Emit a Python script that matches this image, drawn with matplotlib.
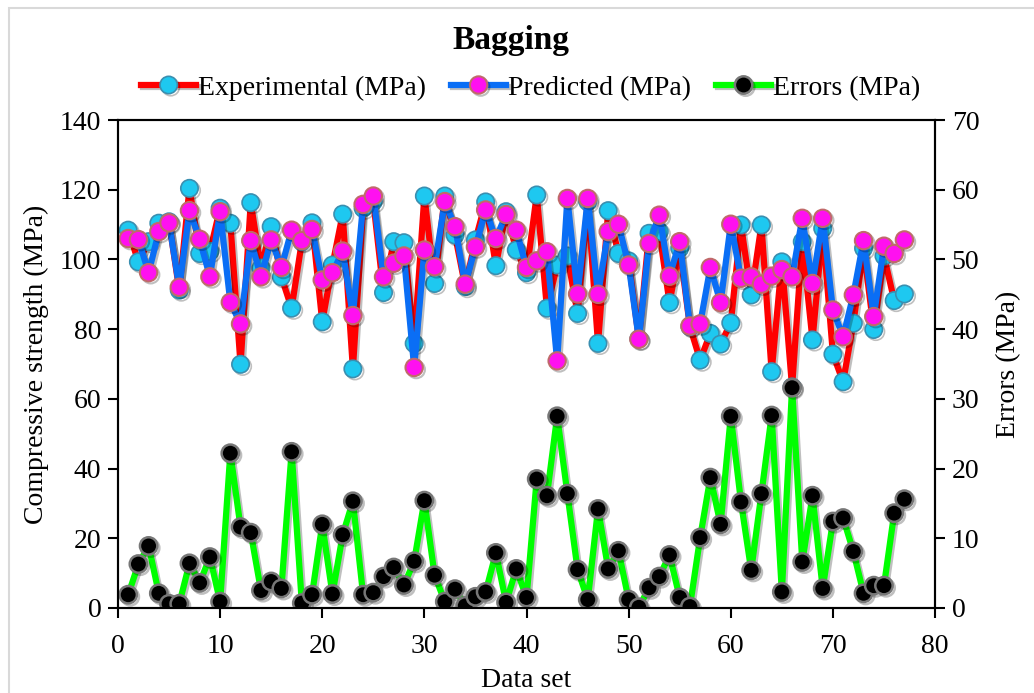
import matplotlib
matplotlib.use("Agg")
import matplotlib.pyplot as plt
import matplotlib.patheffects as pe
from matplotlib.patches import Rectangle

plt.rcParams["font.family"] = ["Liberation Serif", "DejaVu Serif"]

data_set = list(range(1, 78))

experimental = [108.4, 99.3, 105.1, 110.4, 110.8, 91.2, 120.4, 101.7, 102.3, 114.7,
                110.4, 69.9, 116.3, 97.5, 109.4, 95.0, 86.0, 105.1, 110.5, 82.1,
                98.4, 113.0, 68.6, 114.7, 116.6, 90.5, 105.1, 104.8, 75.9, 118.2,
                93.1, 118.2, 107.0, 92.2, 105.6, 116.5, 98.2, 113.7, 102.7, 96.2,
                118.5, 86.0, 98.4, 101.0, 84.5, 116.6, 75.9, 114.0, 101.7, 99.6,
                77.2, 107.5, 108.0, 87.6, 103.2, 80.7, 71.1, 78.8, 75.7, 81.8,
                109.9, 89.8, 109.9, 67.8, 99.3, 63.4, 105.1, 76.9, 108.9, 72.8,
                64.9, 81.7, 103.2, 79.9, 101.0, 88.2, 90.1]

predicted = [106.0, 105.7, 96.2, 108.0, 110.5, 92.0, 114.0, 105.8, 95.0, 113.7,
             87.7, 81.5, 105.4, 95.0, 105.6, 97.7, 108.4, 105.4, 108.6, 94.1,
             96.2, 102.4, 83.9, 115.8, 118.2, 95.0, 98.9, 101.0, 69.0, 102.7,
             97.9, 116.6, 109.4, 92.9, 103.6, 114.2, 106.0, 112.9, 108.4, 97.7,
             99.6, 102.2, 70.9, 117.5, 90.1, 117.5, 90.0, 108.0, 110.1, 98.4,
             77.1, 104.6, 112.7, 95.2, 105.1, 80.9, 81.5, 97.7, 87.6, 110.1,
             94.6, 95.0, 92.9, 95.2, 97.1, 95.0, 111.8, 93.1, 111.8, 85.5,
             77.8, 89.8, 105.4, 83.6, 103.8, 101.7, 105.6]

errors = [1.9, 6.3, 8.9, 2.1, 0.6, 0.6, 6.4, 3.6, 7.3, 0.9,
          22.2, 11.6, 10.8, 2.5, 3.8, 2.8, 22.4, 0.7, 1.9, 12.0,
          2.0, 10.5, 15.3, 1.9, 2.2, 4.5, 5.8, 3.3, 6.7, 15.4,
          4.7, 0.9, 2.7, 0.3, 1.6, 2.3, 7.9, 0.8, 5.6, 1.5,
          18.5, 16.1, 27.5, 16.4, 5.5, 1.2, 14.2, 5.6, 8.2, 1.2,
          0.1, 2.9, 4.5, 7.6, 1.5, 0.2, 10.1, 18.7, 12.0, 27.5,
          15.2, 5.4, 16.4, 27.6, 2.3, 31.6, 6.6, 16.1, 2.8, 12.4,
          12.9, 8.1, 2.1, 3.2, 3.2, 13.6, 15.6]

shadow = [pe.SimpleLineShadow(offset=(1.5, -1.5), alpha=0.25), pe.Normal()]

fig = plt.figure(figsize=(10.34, 6.93), dpi=100)
ax = fig.add_axes([0.1141, 0.1227, 0.7902, 0.7041])
ax2 = ax.twinx()

ax.plot(data_set, experimental, color="#ff0000", lw=4.5, marker="o", ms=12.5,
        mfc="#1ec8f0", mec="#3a8fb0", mew=1.2, label="Experimental (MPa)",
        path_effects=shadow, zorder=2)
ax.plot(data_set, predicted, color="#0a6ef5", lw=4.5, marker="o", ms=12.5,
        mfc="#ff10f0", mec="#c06a6a", mew=1.5, label="Predicted (MPa)",
        path_effects=shadow, zorder=3)
ax2.plot(data_set, errors, color="#00ff00", lw=4.5, marker="o", ms=12.5,
         mfc="#000000", mec="#777777", mew=1.8, label="Errors (MPa)",
         path_effects=shadow)

ax.set_xlim(0, 80)
ax.set_ylim(0, 140)
ax2.set_ylim(0, 70)
ax.set_xticks(range(0, 81, 10))
ax.set_yticks(range(0, 141, 20))
ax2.set_yticks(range(0, 71, 10))

for a in (ax, ax2):
    a.tick_params(labelsize=20, direction="out", length=7, width=1.5, pad=5)
    for s in a.spines.values():
        s.set_linewidth(1.5)
ax.tick_params(axis="x", pad=12)

ax.set_xlabel("Data set", fontsize=20, labelpad=6)
ax.set_ylabel("Compressive strength (MPa)", fontsize=20, labelpad=8)
ax2.set_ylabel("Errors (MPa)", fontsize=20, labelpad=12)

fig.text(0.494, 0.942, "Bagging", ha="center", va="center", fontsize=24, fontweight="bold")

h1, l1 = ax.get_legend_handles_labels()
h2, l2 = ax2.get_legend_handles_labels()
fig.legend(h1 + h2, l1 + l2, loc="center", bbox_to_anchor=(0.513, 0.873), ncol=3,
           frameon=False, fontsize=20, handlelength=2.0, handletextpad=0.05,
           columnspacing=0.9, borderaxespad=0, borderpad=0)

fig.patches.append(Rectangle((0.009, -0.01), 0.995, 0.998, transform=fig.transFigure,
                             fill=False, edgecolor="#d9d9d9", lw=1.5))

fig.savefig("out.png", dpi=100)
